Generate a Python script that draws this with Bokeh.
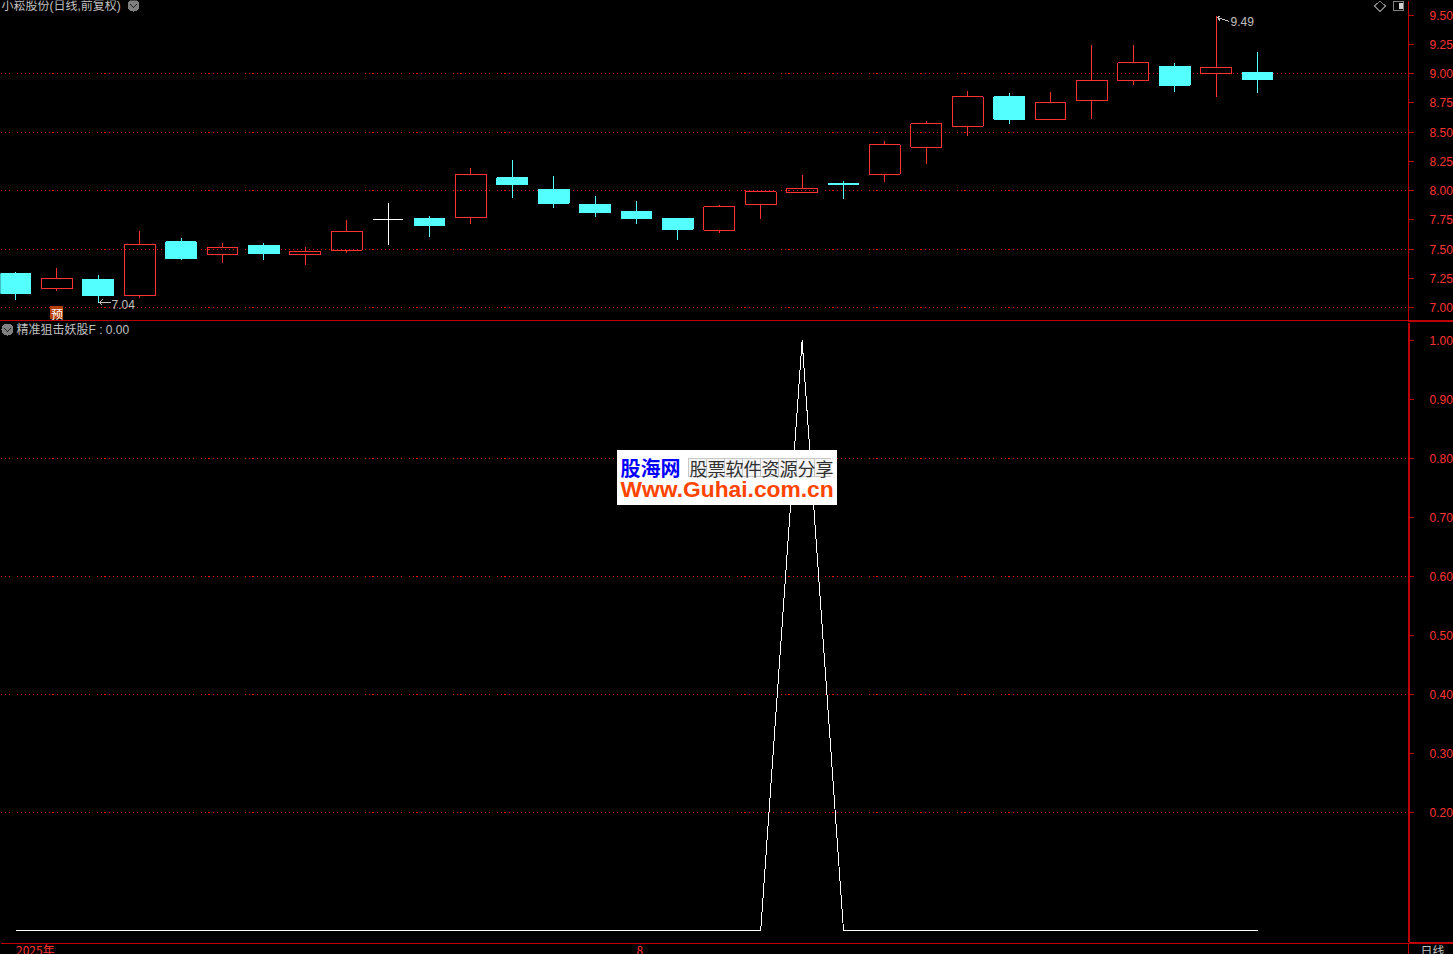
from bokeh.embed import file_html
from bokeh.resources import INLINE
from bokeh.plotting import figure
from bokeh.layouts import column, row
from bokeh.models import (BoxAnnotation, FixedTicker, Label, LinearAxis, NumeralTickFormatter,
                          Range1d, ColumnDataSource, Spacer)

# ---- data ----
opens  = [7.29,7.16,7.24,7.10,7.56,7.45,7.53,7.45,7.49,7.75,7.76,7.77,8.11,8.01,7.88,7.82,7.76,7.66,7.88,7.98,8.06,8.14,8.37,8.55,8.80,8.61,8.77,8.94,9.06,9.00,9.01]
closes = [7.12,7.25,7.10,7.54,7.42,7.51,7.46,7.48,7.65,7.75,7.70,8.14,8.05,7.89,7.81,7.76,7.67,7.86,7.99,8.02,8.05,8.39,8.57,8.80,8.61,8.75,8.94,9.09,8.90,9.05,8.95]
highs  = [7.30,7.34,7.28,7.65,7.59,7.55,7.55,7.52,7.75,7.89,7.78,8.19,8.26,8.12,7.95,7.91,7.76,7.88,8.00,8.13,8.08,8.42,8.59,8.85,8.83,8.84,9.24,9.24,9.09,9.49,9.18]
lows   = [7.06,7.14,7.04,7.08,7.41,7.38,7.41,7.36,7.47,7.53,7.60,7.71,7.94,7.85,7.77,7.71,7.58,7.64,7.76,7.98,7.93,8.07,8.23,8.47,8.57,8.60,8.61,8.90,8.84,8.80,8.83]
signal = [0]*19 + [1] + [0]*11
price_ticks = [7.0,7.25,7.5,7.75,8.0,8.25,8.5,8.75,9.0,9.25,9.5]
price_grid  = [7.0,7.5,8.0,8.5,9.0]
sig_ticks   = [0.2,0.3,0.4,0.5,0.6,0.7,0.8,0.9,1.0]
sig_grid    = [0.2,0.4,0.6,0.8]
title_top = "小崧股份(日线,前复权)"
title_bot = "精准狙击妖股F : 0.00"
date_labels = {0.48: "2025年", 15.08: "8"}

RED="#ff3232"; CYAN="#54ffff"; DARK="#c00000"; GRAY="#c0c0c0"; ICON="#808080"
MIX="Liberation Sans, Noto Sans CJK SC"
W=1453; FX=1408
BG={"background-color":"black"}

def xd(px): return (px-15)/41.4
def yt(py): return 7+(307-py)/117
def yb(py): return (930-py)/590

def edge(p, side, color, width=1):
    a = LinearAxis(ticker=FixedTicker(ticks=[]), axis_line_color=color, axis_line_width=width,
                   major_tick_line_color=None, minor_tick_line_color=None,
                   major_tick_in=0, major_tick_out=0, major_label_standoff=0)
    p.add_layout(a, side)

def bare(**kw):
    return figure(output_backend="svg", toolbar_location=None, tools="",
                  background_fill_color="black", border_fill_color=None,
                  outline_line_color=None, min_border=0, min_border_left=0,
                  min_border_right=0, min_border_top=0, min_border_bottom=0,
                  styles=BG, **kw)

def make(h, yr, ticks, grid):
    p = bare(width=W, height=h, frame_width=FX, frame_height=h,
             x_range=Range1d(xd(0),xd(FX)), y_range=Range1d(*yr),
             y_axis_location="right", x_axis_location=None)
    p.xgrid.visible=False
    g=p.ygrid[0]; g.ticker=FixedTicker(ticks=grid); g.grid_line_color="#ff0000"; g.grid_line_dash="1 3"; g.grid_line_width=1
    a=p.yaxis[0]; a.ticker=FixedTicker(ticks=ticks); a.formatter=NumeralTickFormatter(format="0.00")
    a.axis_line_color=DARK; a.major_tick_line_color=DARK; a.minor_tick_line_color=None
    a.major_tick_in=0; a.major_tick_out=5; a.major_label_standoff=16
    a.major_label_text_color=RED; a.major_label_text_font="Liberation Sans"; a.major_label_text_font_size="12px"
    return p

def box(p, yf, l, r, t, b, color):
    p.add_layout(BoxAnnotation(left=xd(l-0.5), right=xd(r-0.5), top=yf(t-0.5), bottom=yf(b-0.5),
                 fill_color=color, fill_alpha=1, line_color=None, line_alpha=0, level="annotation"))

def lab(p, yf, px, py, txt, color=GRAY, size="12px", font=MIX, style="normal", align="left"):
    p.add_layout(Label(x=xd(px), y=yf(py), text=txt, text_color=color, text_font=font,
                       text_font_size=size, text_font_style=style, text_baseline="middle", text_align=align))

# ---- price panel ----
top = make(320, (yt(320), yt(0)), price_ticks, price_grid)
idx=list(range(len(opens)))
up=[c>o for o,c in zip(opens,closes)]; doji=[c==o for o,c in zip(opens,closes)]
cols=[("#ffffff" if d else (RED if u else CYAN)) for u,d in zip(up,doji)]
btop=[max(o,c) for o,c in zip(opens,closes)]; bbot=[min(o,c) for o,c in zip(opens,closes)]
src=ColumnDataSource(dict(x=idx,h=highs,l=lows,t=btop,b=bbot,c=cols,
     left=[i-0.37 for i in idx], right=[i+0.37 for i in idx],
     fa=[0 if (u or d) else 1 for u,d in zip(up,doji)]))
top.segment("x","t","x","h",source=src,color="c",line_width=1)
top.segment("x","b","x","l",source=src,color="c",line_width=1)
top.quad(left="left",right="right",top="t",bottom="b",source=src,line_color="c",fill_color="c",fill_alpha="fa",line_width=1)

# extreme markers
top.line([xd(1217),xd(1229)],[yt(17),yt(21)],color=GRAY,line_width=1)
top.line([xd(1220),xd(1217),xd(1220)],[yt(15),yt(17),yt(21)],color=GRAY,line_width=1)
lab(top,yt,1230,21,f"{highs[29]:.2f}")
top.line([xd(99),xd(110)],[yt(302),yt(302)],color=GRAY,line_width=1)
top.line([xd(102),xd(99),xd(102)],[yt(299),yt(302),yt(305)],color=GRAY,line_width=1)
lab(top,yt,111,303.5,f"{lows[2]:.2f}")
box(top,yt,50,63,306,319,"#b84000")
lab(top,yt,50.5,312.5,"预",color="#ffffff",size="12px",font="Noto Sans CJK SC")
lab(top,yt,1,5.5,title_top)
# header icons
top.scatter([xd(133)],[yt(5)],marker="circle",size=12,fill_color=ICON,line_color=None)
top.line([xd(130),xd(133),xd(136)],[yt(4),yt(7),yt(4)],color="#202020",line_width=1)
top.line([xd(1374),xd(1379.5),xd(1385),xd(1379.5),xd(1374)],[yt(5.5),yt(0.5),yt(5.5),yt(11),yt(5.5)],color=ICON,line_width=1)
top.quad(left=[xd(1393)],right=[xd(1403)],top=[yt(0.5)],bottom=[yt(10)],fill_color=None,line_color=ICON,line_width=1)
top.quad(left=[xd(1398)],right=[xd(1402)],top=[yt(2)],bottom=[yt(8.5)],fill_color="#d0d0d0",line_color=None)

# separator between the panels
sep = row(Spacer(width=FX, height=1, styles={"background-color":DARK}),
          Spacer(width=W-FX, height=2, styles={"background-color":DARK}),
          spacing=0, styles=BG)

# ---- signal panel ----
bot = make(620, (yb(942), yb(322)), sig_ticks, sig_grid)
bot.yaxis[0].axis_line_width=2
bot.line(idx,signal,color="#ffffff",line_width=1)
lab(bot,yb,16,329,title_bot)
bot.scatter([xd(7)],[yb(329)],marker="circle",size=12,fill_color=ICON,line_color=None)
bot.line([xd(4),xd(7),xd(10)],[yb(328),yb(331),yb(328)],color="#202020",line_width=1)
# watermark
box(bot,yb,617,837,450,505,"#ffffff")
box(bot,yb,688,831,458,477,"#c8c8c8")
for i in range(8):
    box(bot,yb,689+i*18,706+i*18,459,476,"#f4f4f4")
lab(bot,yb,620,467,"股海网",color="#0000ff",size="20px",style="bold",font="Noto Sans CJK SC")
lab(bot,yb,689,467.5,"股票软件资源分享",color="#303030",size="18px",font="Noto Sans CJK SC")
lab(bot,yb,620,488.5,"Www.Guhai.com.cn",color="#ff4400",size="22.8px",font="Liberation Sans",style="bold")

# ---- date strip ----
dates = bare(width=FX, height=12, frame_width=FX, frame_height=1,
             x_range=Range1d(xd(0),xd(FX)), y_range=Range1d(0,1),
             x_axis_location="below", y_axis_location=None)
dates.grid.visible=False
x=dates.below[0]
x.ticker=FixedTicker(ticks=list(date_labels)); x.major_label_overrides=dict(date_labels)
x.axis_line_color=DARK; x.major_tick_line_color=None; x.minor_tick_line_color=None
x.major_tick_in=0; x.major_tick_out=0; x.major_label_standoff=-3
x.major_label_text_color=RED; x.major_label_text_font="Noto Sans CJK SC"; x.major_label_text_font_size="12px"

# ---- corner cell under the axis ----
corner = bare(width=W-FX, height=12, frame_width=W-FX, frame_height=12,
              x_range=Range1d(FX,W), y_range=Range1d(954,942),
              x_axis_location=None, y_axis_location=None)
corner.grid.visible=False
edge(corner,"above",DARK,2)
edge(corner,"left",DARK,1)
corner.add_layout(Label(x=1420,y=949.5,text="日线",text_color=GRAY,text_font="Noto Sans CJK SC",
                        text_font_size="12px",text_baseline="middle"))

layout = column(top, sep, bot, row(dates, corner, spacing=0, styles=BG), spacing=0,
                styles={"position":"fixed","left":"0px","top":"0px","shape-rendering":"crispEdges",
                        "background-color":"black"})
open("out.html","w").write(file_html(layout, INLINE))
